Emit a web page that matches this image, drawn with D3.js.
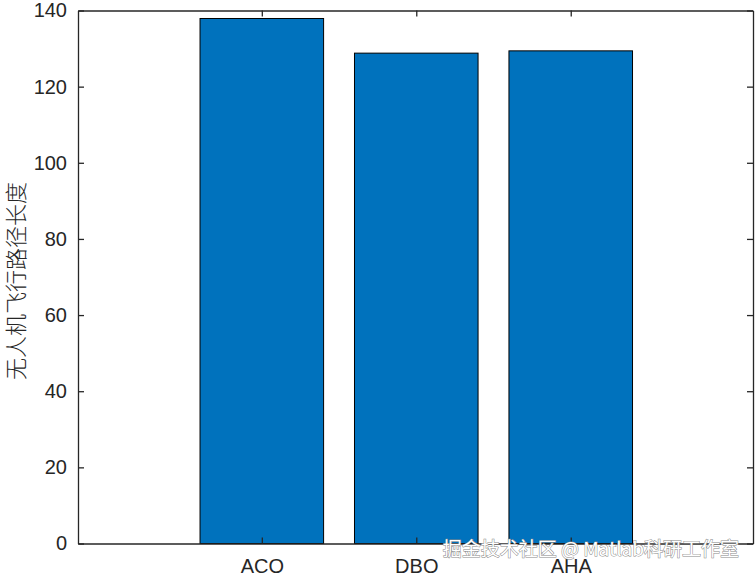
<!DOCTYPE html>
<html>
<head>
<meta charset="utf-8">
<script src="https://cdn.jsdelivr.net/npm/d3@7/dist/d3.min.js"></script>
<style>
body { margin: 0; background: #fff; }
svg { display: block; }
</style>
</head>
<body>
<script>
// bar data
var categories = ["ACO", "DBO", "AHA"];
var values = [137.9, 128.8, 129.4];
var yTicks = [0, 20, 40, 60, 80, 100, 120, 140];

var W = 756, H = 577;
var margin = { top: 10.5, right: 3, bottom: 33.5, left: 78 },
    width = W - margin.left - margin.right,
    height = H - margin.top - margin.bottom;

var svg = d3.select("body").append("svg")
    .attr("width", W)
    .attr("height", H);

var g = svg.append("g")
    .attr("transform", "translate(" + margin.left + "," + margin.top + ")");

var x = d3.scaleLinear()
    .domain([-0.19, 4.18])
    .range([0, width]);

var y = d3.scaleLinear()
    .domain([0, 140])
    .range([height, 0]);

var barW = 0.8;

// bars
g.selectAll(".bar")
    .data(values)
    .enter().append("rect")
    .attr("class", "bar")
    .attr("x", function(d, i) { return x(i + 1 - barW / 2); })
    .attr("width", function() { return x(barW) - x(0); })
    .attr("y", function(d) { return y(d); })
    .attr("height", function(d) { return y(0) - y(d); })
    .style("fill", "#0072BD")
    .style("stroke", "#000")
    .style("stroke-width", 1);

var axisColor = "#262626";

// x axis (bottom) with inward ticks
var xAxis = d3.axisBottom(x)
    .tickValues([1, 2, 3])
    .tickFormat(function(d) { return categories[d - 1]; })
    .tickSizeInner(-6)
    .tickSizeOuter(0)
    .tickPadding(15);

var gx = g.append("g")
    .attr("transform", "translate(0," + height + ")")
    .call(xAxis);

// top mirrored axis
var gxt = g.append("g")
    .call(d3.axisTop(x).tickValues([1, 2, 3]).tickFormat("").tickSizeInner(-6).tickSizeOuter(0));

// y axis (left)
var gy = g.append("g")
    .call(d3.axisLeft(y).tickValues(yTicks).tickSizeInner(-6).tickSizeOuter(0).tickPadding(11));

// right mirrored axis
var gyr = g.append("g")
    .attr("transform", "translate(" + width + ",0)")
    .call(d3.axisRight(y).tickValues(yTicks).tickFormat("").tickSizeInner(-6).tickSizeOuter(0));

[gx, gxt, gy, gyr].forEach(function(a) {
    a.selectAll("path, line").style("stroke", axisColor).style("stroke-width", 1.3);
    a.selectAll("text")
        .style("font-family", "Liberation Sans, Arial, sans-serif")
        .style("font-size", "20px")
        .style("fill", axisColor);
});

// y label
svg.append("text")
    .attr("transform", "translate(24," + (margin.top + height / 2 + 4) + ") rotate(-90)")
    .style("text-anchor", "middle")
    .style("font-family", "Noto Sans CJK SC, sans-serif")
    .style("font-weight", 300)
    .style("font-size", "22px")
    .style("fill", axisColor)
    .text("无人机飞行路径长度");

// watermark
svg.append("text")
    .attr("x", 739)
    .attr("y", 556)
    .style("text-anchor", "end")
    .style("font-family", "Noto Sans CJK SC, sans-serif")
    .style("font-size", "19px")
    .style("fill", "#fff")
    .style("stroke", "#888")
    .style("stroke-width", 1)
    .style("paint-order", "stroke")
    .text("掘金技术社区 @ Matlab科研工作室");
</script>
</body>
</html>
